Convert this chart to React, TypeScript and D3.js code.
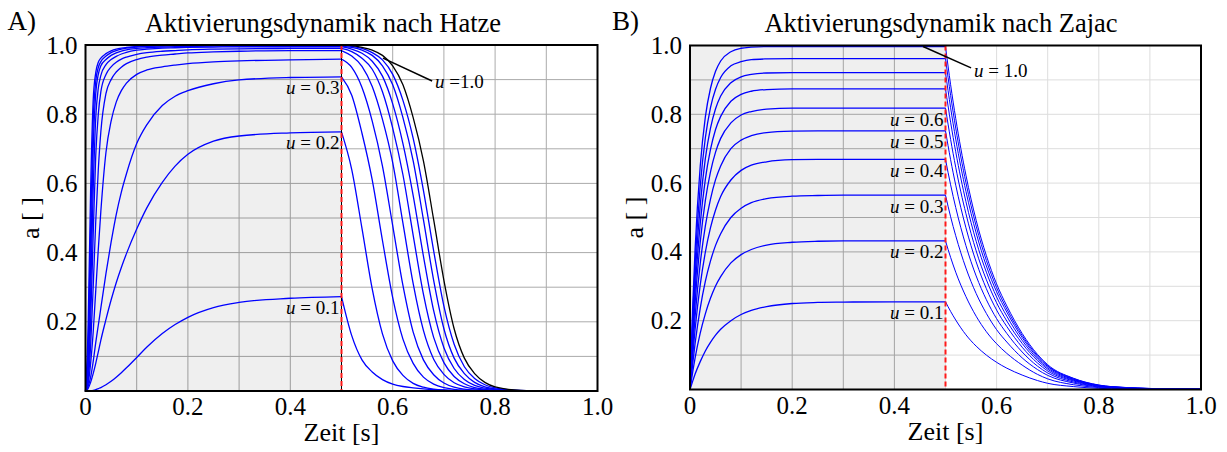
import React from "react";
import * as d3 from "d3";

// ---------- data ----------
const uLevels = [0.1, 0.2, 0.3, 0.4, 0.5, 0.6, 0.7, 0.8, 0.9, 1.0];

const hatzeRiseTimes = [0, 0.005, 0.01, 0.015, 0.02, 0.025, 0.03, 0.04, 0.05, 0.06, 0.07, 0.08, 0.1, 0.12, 0.15, 0.175, 0.2, 0.25, 0.3, 0.4, 0.5];
const hatzeRiseValues = [
  [0, 0.0004, 0.001, 0.002, 0.004, 0.007, 0.01, 0.018, 0.028, 0.04, 0.053, 0.067, 0.097, 0.127, 0.166, 0.192, 0.213, 0.241, 0.256, 0.268, 0.273],
  [0, 0.007, 0.025, 0.05, 0.08, 0.113, 0.147, 0.207, 0.263, 0.313, 0.357, 0.397, 0.468, 0.53, 0.603, 0.65, 0.684, 0.722, 0.737, 0.746, 0.749],
  [0, 0.012, 0.04, 0.085, 0.14, 0.19, 0.24, 0.34, 0.43, 0.51, 0.575, 0.628, 0.715, 0.77, 0.825, 0.852, 0.868, 0.888, 0.899, 0.906, 0.908],
  [0, 0.02, 0.08, 0.17, 0.29, 0.41, 0.52, 0.69, 0.78, 0.835, 0.868, 0.89, 0.915, 0.928, 0.937, 0.942, 0.946, 0.951, 0.954, 0.957, 0.959],
  [0, 0.03, 0.13, 0.3, 0.49, 0.64, 0.75, 0.86, 0.9, 0.922, 0.936, 0.946, 0.958, 0.965, 0.971, 0.974, 0.977, 0.98, 0.982, 0.984, 0.984],
  [0, 0.045, 0.2, 0.45, 0.68, 0.8, 0.865, 0.915, 0.937, 0.95, 0.959, 0.965, 0.973, 0.978, 0.982, 0.984, 0.986, 0.988, 0.989, 0.99, 0.99],
  [0, 0.06, 0.28, 0.58, 0.79, 0.875, 0.912, 0.943, 0.958, 0.967, 0.974, 0.979, 0.985, 0.988, 0.991, 0.992, 0.993, 0.994, 0.995, 0.995, 0.995],
  [0, 0.09, 0.37, 0.7, 0.86, 0.915, 0.94, 0.958, 0.97, 0.977, 0.982, 0.986, 0.99, 0.992, 0.994, 0.995, 0.996, 0.997, 0.997, 0.997, 0.997],
  [0, 0.12, 0.47, 0.78, 0.895, 0.935, 0.952, 0.968, 0.978, 0.984, 0.988, 0.991, 0.994, 0.996, 0.997, 0.998, 0.998, 0.999, 0.999, 0.999, 0.999],
  [0, 0.18, 0.58, 0.84, 0.92, 0.95, 0.962, 0.975, 0.983, 0.988, 0.991, 0.993, 0.996, 0.997, 0.998, 0.999, 0.999, 1.0, 1.0, 1.0, 1.0],
];

const hatzeDecayTimes = [0.5, 0.52, 0.54, 0.56, 0.58, 0.6, 0.62, 0.64, 0.66, 0.68, 0.7, 0.72, 0.74, 0.76, 0.78, 0.8, 0.85, 0.9, 1.0];
const hatzeDecayValues = [
  [0.273, 0.16, 0.09, 0.055, 0.033, 0.02, 0.013, 0.009, 0.006, 0.004, 0.003, 0.002, 0.0015, 0.001, 0.0008, 0.0005, 0.0003, 0.0002, 0],
  [0.749, 0.64, 0.47, 0.295, 0.165, 0.087, 0.045, 0.022, 0.011, 0.0055, 0.0027, 0.0013, 0.0006, 0.0003, 0.0002, 0.0001, 0, 0, 0],
  [0.908, 0.855, 0.745, 0.61, 0.435, 0.27, 0.15, 0.08, 0.04, 0.02, 0.01, 0.005, 0.0025, 0.0012, 0.0006, 0.0003, 0, 0, 0],
  [0.959, 0.935, 0.877, 0.78, 0.65, 0.478, 0.305, 0.17, 0.09, 0.047, 0.023, 0.011, 0.0055, 0.003, 0.0015, 0.0008, 0.0001, 0, 0],
  [0.984, 0.968, 0.938, 0.88, 0.785, 0.66, 0.485, 0.31, 0.175, 0.092, 0.048, 0.024, 0.012, 0.006, 0.003, 0.0015, 0.0003, 0, 0],
  [0.99, 0.981, 0.962, 0.93, 0.865, 0.76, 0.625, 0.45, 0.28, 0.155, 0.082, 0.042, 0.021, 0.01, 0.005, 0.0025, 0.0005, 0.0001, 0],
  [0.995, 0.988, 0.976, 0.953, 0.91, 0.83, 0.715, 0.565, 0.39, 0.232, 0.125, 0.065, 0.033, 0.016, 0.008, 0.004, 0.0007, 0.0001, 0],
  [0.997, 0.993, 0.985, 0.97, 0.94, 0.885, 0.79, 0.665, 0.495, 0.32, 0.18, 0.095, 0.05, 0.025, 0.012, 0.006, 0.001, 0.0002, 0],
  [0.999, 0.996, 0.99, 0.978, 0.957, 0.915, 0.84, 0.73, 0.58, 0.405, 0.245, 0.135, 0.07, 0.036, 0.018, 0.009, 0.0015, 0.0003, 0],
  [1.0, 0.998, 0.993, 0.985, 0.97, 0.94, 0.885, 0.79, 0.665, 0.495, 0.32, 0.18, 0.095, 0.05, 0.025, 0.012, 0.002, 0.0005, 0],
];

const zajacRiseTimes = [0, 0.005, 0.01, 0.02, 0.03, 0.04, 0.05, 0.06, 0.08, 0.1, 0.12, 0.15, 0.2, 0.25, 0.3, 0.4, 0.5];
const zajacRiseValues = [
  [0, 0.023, 0.045, 0.081, 0.112, 0.137, 0.158, 0.175, 0.2, 0.218, 0.23, 0.241, 0.25, 0.253, 0.254, 0.255, 0.255],
  [0, 0.048, 0.092, 0.164, 0.22, 0.265, 0.301, 0.328, 0.368, 0.392, 0.407, 0.42, 0.428, 0.431, 0.432, 0.432, 0.432],
  [0, 0.071, 0.134, 0.236, 0.314, 0.373, 0.419, 0.453, 0.5, 0.527, 0.543, 0.555, 0.562, 0.564, 0.565, 0.565, 0.565],
  [0, 0.094, 0.175, 0.304, 0.399, 0.47, 0.522, 0.561, 0.609, 0.637, 0.652, 0.662, 0.668, 0.669, 0.669, 0.669, 0.669],
  [0, 0.116, 0.213, 0.366, 0.475, 0.553, 0.61, 0.65, 0.7, 0.725, 0.738, 0.747, 0.751, 0.752, 0.752, 0.752, 0.752],
  [0, 0.138, 0.253, 0.428, 0.549, 0.632, 0.69, 0.73, 0.775, 0.798, 0.808, 0.815, 0.818, 0.818, 0.818, 0.818, 0.818],
  [0, 0.158, 0.288, 0.482, 0.611, 0.697, 0.756, 0.794, 0.838, 0.858, 0.867, 0.872, 0.874, 0.874, 0.874, 0.874, 0.874],
  [0, 0.18, 0.325, 0.535, 0.671, 0.759, 0.816, 0.853, 0.892, 0.909, 0.916, 0.92, 0.921, 0.921, 0.921, 0.921, 0.921],
  [0, 0.204, 0.365, 0.591, 0.731, 0.819, 0.873, 0.907, 0.941, 0.953, 0.959, 0.961, 0.962, 0.962, 0.962, 0.962, 0.962],
  [0, 0.23, 0.408, 0.649, 0.792, 0.875, 0.925, 0.955, 0.982, 0.992, 0.995, 0.997, 0.997, 0.997, 0.997, 0.997, 0.997],
];

const zajacDecayTimes = [0.5, 0.51, 0.52, 0.54, 0.56, 0.58, 0.6, 0.62, 0.65, 0.68, 0.7, 0.75, 0.8, 0.85, 0.9, 0.95, 1.0];
const zajacDecayValues = [
  [0.255, 0.227, 0.202, 0.159, 0.126, 0.1, 0.079, 0.062, 0.042, 0.026, 0.018, 0.0085, 0.0033, 0.0015, 0.0008, 0.0004, 0.0003],
  [0.432, 0.384, 0.341, 0.27, 0.213, 0.168, 0.133, 0.105, 0.071, 0.044, 0.031, 0.014, 0.0056, 0.0026, 0.0013, 0.0006, 0.0004],
  [0.565, 0.502, 0.447, 0.353, 0.279, 0.221, 0.174, 0.138, 0.092, 0.058, 0.041, 0.019, 0.0074, 0.0034, 0.0017, 0.0009, 0.0006],
  [0.669, 0.595, 0.529, 0.418, 0.33, 0.261, 0.206, 0.163, 0.109, 0.068, 0.048, 0.022, 0.0087, 0.004, 0.002, 0.001, 0.0007],
  [0.752, 0.668, 0.594, 0.47, 0.371, 0.293, 0.231, 0.183, 0.123, 0.077, 0.054, 0.025, 0.0098, 0.0045, 0.0023, 0.0011, 0.0008],
  [0.818, 0.727, 0.646, 0.511, 0.403, 0.319, 0.252, 0.199, 0.134, 0.084, 0.059, 0.027, 0.011, 0.005, 0.0025, 0.0012, 0.0008],
  [0.874, 0.777, 0.691, 0.546, 0.431, 0.341, 0.269, 0.213, 0.143, 0.089, 0.063, 0.029, 0.011, 0.0053, 0.0026, 0.0013, 0.0009],
  [0.921, 0.819, 0.728, 0.576, 0.455, 0.359, 0.284, 0.225, 0.151, 0.094, 0.067, 0.03, 0.012, 0.0055, 0.0028, 0.0014, 0.0009],
  [0.962, 0.855, 0.76, 0.601, 0.475, 0.375, 0.296, 0.234, 0.157, 0.098, 0.069, 0.032, 0.0125, 0.006, 0.003, 0.0014, 0.001],
  [0.997, 0.886, 0.788, 0.623, 0.492, 0.389, 0.307, 0.243, 0.163, 0.102, 0.072, 0.033, 0.013, 0.006, 0.003, 0.0015, 0.001],
];

const xTicks = [0, 0.2, 0.4, 0.6, 0.8, 1.0];
const xTickLabels = ["0", "0.2", "0.4", "0.6", "0.8", "1.0"];
const yTicks = [0.2, 0.4, 0.6, 0.8, 1.0];
const yTickLabels = ["0.2", "0.4", "0.6", "0.8", "1.0"];
const gridValues = [0.1, 0.2, 0.3, 0.4, 0.5, 0.6, 0.7, 0.8, 0.9];
const switchTime = 0.5;

const hatzeLabelled = [0.1, 0.2, 0.3];
const zajacLabelled = [0.1, 0.2, 0.3, 0.4, 0.5, 0.6];

const FONT = "'Liberation Serif', 'Times New Roman', serif";

type PanelProps = {
  letter: string;
  title: string;
  titleX: number;
  left: number;
  right: number;
  top: number;
  bottom: number;
  riseTimes: number[];
  riseValues: number[][];
  decayTimes: number[];
  decayValues: number[][];
  labelled: number[];
  topDecayBlack: boolean;
  gridDark: string;
  gridLight: string;
  decayWidth: number;
  leaderFrom: [number, number];
  leaderTo: [number, number];
  topLabel: string;
  topLabelDy: number;
  redOverBlack: boolean;
};

function Panel(p: PanelProps) {
  const x = d3.scaleLinear().domain([0, 1]).range([p.left, p.right]);
  const y = d3.scaleLinear().domain([0, 1]).range([p.bottom, p.top]);
  const line = d3
    .line<[number, number]>()
    .x((d) => x(d[0]))
    .y((d) => y(d[1]))
    .curve(d3.curveMonotoneX);
  const xs = x(switchTime);
  const labelSize = 19;
  return (
    <g>
      <text x={p.left - 78} y={30} fontFamily={FONT} fontSize={27}>
        {p.letter}
      </text>
      <text x={p.titleX} y={32} fontFamily={FONT} fontSize={26.5} textAnchor="middle">
        {p.title}
      </text>
      <rect x={p.left} y={p.top} width={xs - p.left} height={p.bottom - p.top} fill="#efefef" />
      {gridValues.map((g) => (
        <g key={"g" + g}>
          <line x1={p.left} x2={xs} y1={y(g)} y2={y(g)} stroke={p.gridDark} strokeWidth={1} />
          <line x1={xs} x2={p.right} y1={y(g)} y2={y(g)} stroke={p.gridLight} strokeWidth={1} />
          <line
            x1={x(g)}
            x2={x(g)}
            y1={p.top}
            y2={p.bottom}
            stroke={g < switchTime ? p.gridDark : p.gridLight}
            strokeWidth={1}
          />
        </g>
      ))}
      {uLevels.map((u, i) => (
        <g key={"c" + u}>
          <path
            d={line(p.riseTimes.map((t, j) => [t, p.riseValues[i][j]]) as [number, number][]) || ""}
            fill="none"
            stroke="#0000ff"
            strokeWidth={1.3}
          />
          <path
            d={line(p.decayTimes.map((t, j) => [t, p.decayValues[i][j]]) as [number, number][]) || ""}
            fill="none"
            stroke={p.topDecayBlack && i === uLevels.length - 1 ? "#000" : "#0000ff"}
            strokeWidth={p.decayWidth}
          />
        </g>
      ))}
      {p.redOverBlack && <line x1={xs} x2={xs} y1={p.top} y2={p.bottom} stroke="#000" strokeWidth={1} />}
      <line
        x1={xs}
        x2={xs}
        y1={p.top}
        y2={p.bottom}
        stroke="#ff1a1a"
        strokeWidth={2}
        strokeDasharray="5,3"
      />
      <rect
        x={p.left}
        y={p.top}
        width={p.right - p.left}
        height={p.bottom - p.top}
        fill="none"
        stroke="#000"
        strokeWidth={2}
      />
      {yTicks.map((t, i) => (
        <text
          key={"yt" + t}
          x={p.left - 8}
          y={y(t) + 8.5}
          fontFamily={FONT}
          fontSize={25}
          textAnchor="end"
        >
          {yTickLabels[i]}
        </text>
      ))}
      {xTicks.map((t, i) => (
        <text key={"xt" + t} x={x(t)} y={p.bottom + 24} fontFamily={FONT} fontSize={25} textAnchor="middle">
          {xTickLabels[i]}
        </text>
      ))}
      <text
        x={(p.left + p.right) / 2}
        y={p.bottom + 50}
        fontFamily={FONT}
        fontSize={26}
        textAnchor="middle"
      >
        Zeit [s]
      </text>
      <text
        transform={`translate(${p.left - 47},${(p.top + p.bottom) / 2}) rotate(-90)`}
        fontFamily={FONT}
        fontSize={26}
        textAnchor="middle"
      >
        a [ ]
      </text>
      {p.labelled.map((u) => {
        const idx = uLevels.indexOf(u);
        const level = p.riseValues[idx][p.riseValues[idx].length - 1];
        return (
          <text
            key={"l" + u}
            x={xs - 2}
            y={y(level) + 17.5}
            fontFamily={FONT}
            fontSize={labelSize}
            textAnchor="end"
          >
            <tspan fontStyle="italic">u</tspan>
            {" = " + u.toFixed(1)}
          </text>
        );
      })}
      <line
        x1={x(p.leaderFrom[0])}
        y1={y(p.leaderFrom[1])}
        x2={x(p.leaderTo[0])}
        y2={y(p.leaderTo[1])}
        stroke="#000"
        strokeWidth={1.5}
      />
      <text
        x={x(p.leaderTo[0]) + 3}
        y={y(p.leaderTo[1]) + p.topLabelDy}
        fontFamily={FONT}
        fontSize={labelSize}
      >
        <tspan fontStyle="italic">u</tspan>
        {p.topLabel}
      </text>
    </g>
  );
}

export default function App() {
  return (
    <div style={{ position: "absolute", left: 0, top: 0, width: 1227, height: 452, background: "#fff" }}>
      <svg width={1227} height={452} viewBox="0 0 1227 452" style={{ display: "block" }}>
        <rect width={1227} height={452} fill="#fff" />
        <Panel
          letter="A)"
          title="Aktivierungsdynamik nach Hatze"
          titleX={323}
          left={85.5}
          right={597.5}
          top={45}
          bottom={391}
          riseTimes={hatzeRiseTimes}
          riseValues={hatzeRiseValues}
          decayTimes={hatzeDecayTimes}
          decayValues={hatzeDecayValues}
          labelled={hatzeLabelled}
          topDecayBlack={true}
          gridDark="#9c9c9c"
          gridLight="#ababab"
          decayWidth={1.3}
          leaderFrom={[0.581, 0.962]}
          leaderTo={[0.677, 0.896]}
          topLabel=" =1.0"
          topLabelDy={7}
          redOverBlack={true}
        />
        <Panel
          letter="B)"
          title="Aktivierungsdynamik nach Zajac"
          titleX={941}
          left={690}
          right={1201}
          top={45.5}
          bottom={389.5}
          riseTimes={zajacRiseTimes}
          riseValues={zajacRiseValues}
          decayTimes={zajacDecayTimes}
          decayValues={zajacDecayValues}
          labelled={zajacLabelled}
          topDecayBlack={false}
          gridDark="#a4a4a4"
          gridLight="#dddddd"
          decayWidth={1}
          leaderFrom={[0.456, 0.997]}
          leaderTo={[0.55, 0.935]}
          topLabel=" = 1.0"
          topLabelDy={9}
          redOverBlack={false}
        />
      </svg>
    </div>
  );
}
